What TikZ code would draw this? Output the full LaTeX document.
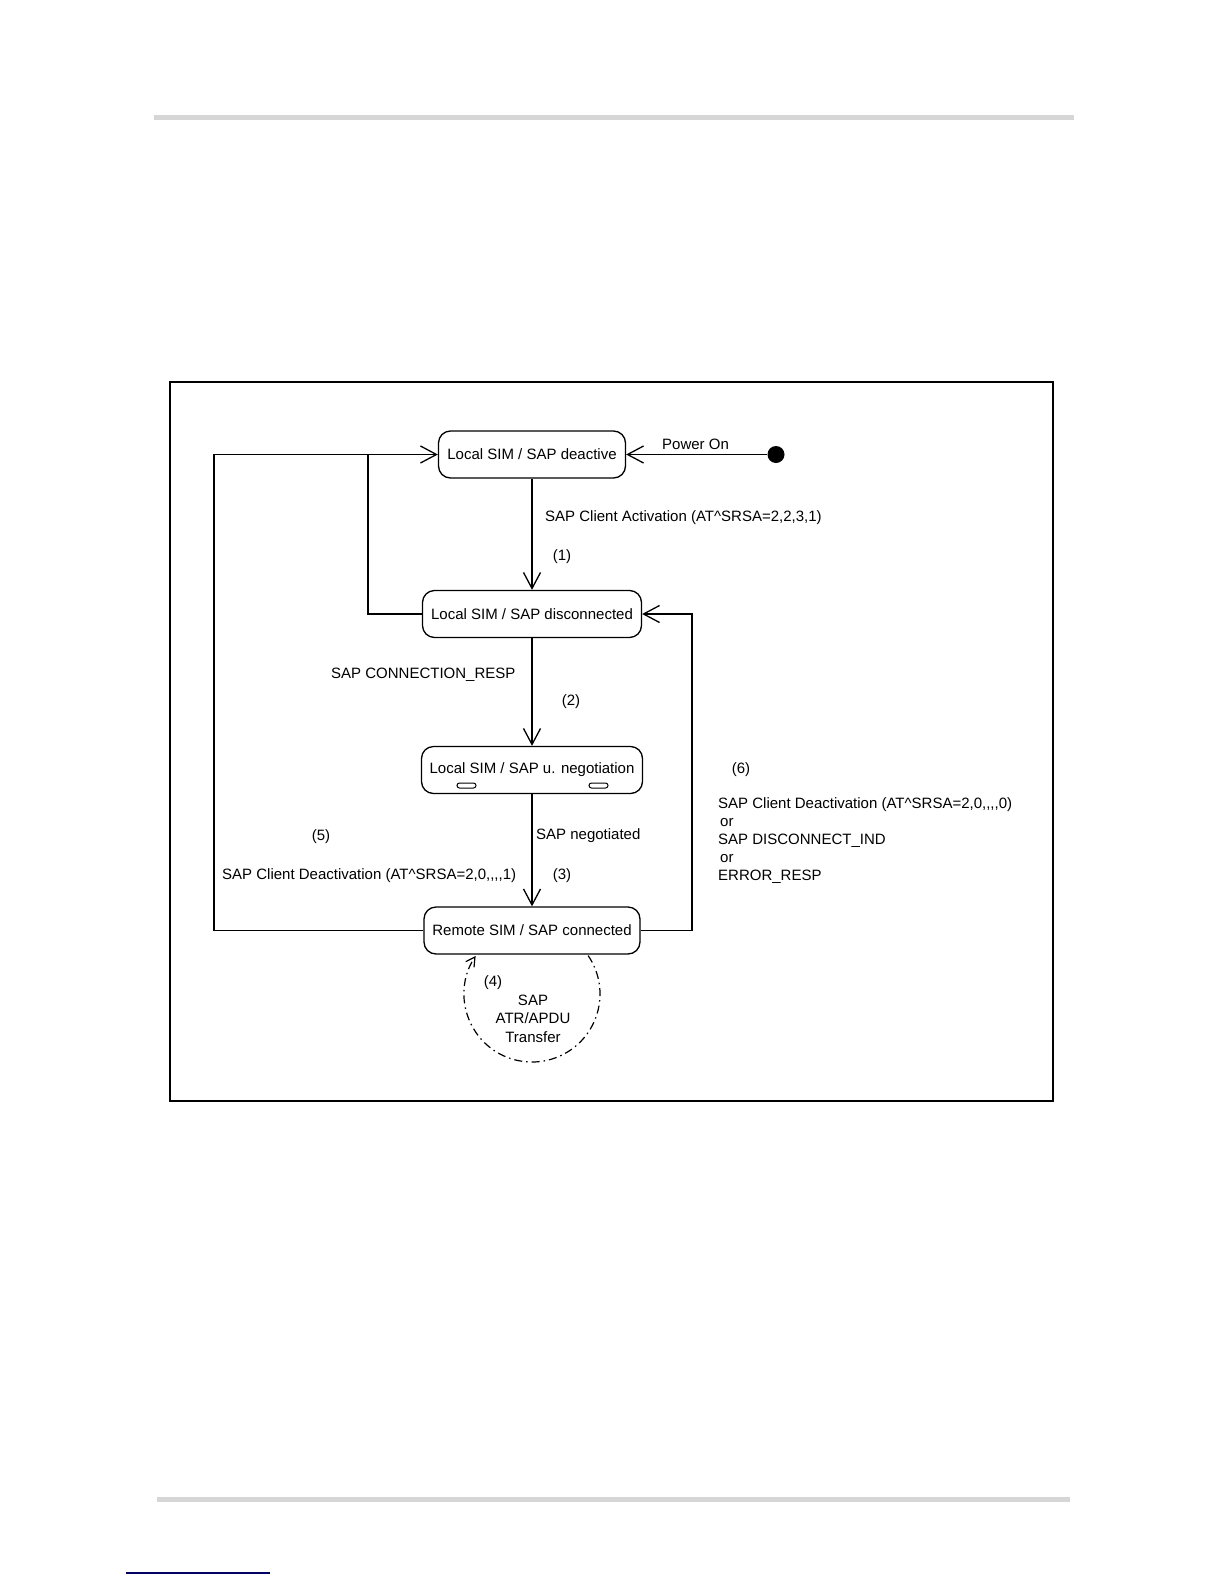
\documentclass[tikz,border=0pt]{standalone}
\usepackage{fontspec}
\setmainfont{Liberation Sans}[Ligatures=TeXOff]
\usetikzlibrary{arrows.meta}

\begin{document}
\begin{tikzpicture}[x=1pt, y=-1pt, every node/.style={font=\fontsize{15}{18}\selectfont}]
  \tikzstyle{state}=[draw,rounded corners=12pt,line width=1.3pt,minimum height=47pt,inner sep=0pt]
  \tikzstyle{trans}=[line width=1.3pt,-{Straight Barb[length=16pt,width=17pt,line width=1.3pt]}]
  \tikzstyle{lbl}=[inner sep=0pt,anchor=west]
  \useasboundingbox (0,0) rectangle (1224,1584);
  % page rules
  \fill[black!16] (154,115) rectangle (1074,120);
  \fill[black!16] (157,1497) rectangle (1070,1502);
  \fill[blue!40!black] (126,1572) rectangle (270,1574);
  % frame
  \draw[line width=1.5pt] (170,382) rectangle (1053,1101);
  % states
  \node[state,minimum width=187pt] (deact) at (532,454.5) {Local SIM / SAP deactive};
  \node[state,minimum width=219pt] (disc) at (532,614) {Local SIM / SAP disconnected};
  \node[state,minimum width=221pt] (nego) at (532,770) {Local SIM / SAP u. negotiation};
  \node[state,minimum width=216pt] (conn) at (532,930.5) {Remote SIM / SAP connected};
  \draw[line width=1pt,rounded corners=2.5pt] (457,783) rectangle (476,788);
  \draw[line width=1pt,rounded corners=2.5pt] (589,783) rectangle (608,788);
  \node[circle,fill,minimum size=17pt,inner sep=0pt] (init) at (776,454.5) {};
  % bends
  \coordinate (lfar) at (214,0);
  \coordinate (lmid) at (368,0);
  \coordinate (rfar) at (692,0);
  % transitions
  \draw[trans] (init) -- (deact);
  \node[lbl] at (662,444) {Power On};
  \draw[trans] (deact) -- (disc);
  \node[lbl] at (545,518) {SAP Client Activation (AT\textasciicircum SRSA=2,2,3,1)};
  \node at (562,557) {(1)};
  \draw[trans] (disc) -- (nego);
  \node[lbl] at (331,675) {SAP CONNECTION\_RESP};
  \node at (571,702) {(2)};
  \draw[trans] (nego) -- (conn);
  \node[lbl] at (536,836) {SAP negotiated};
  \node at (562,876) {(3)};
  \draw[trans] (conn.west) -- (conn.west -| lfar) |- (deact.west);
  \draw[line width=1.3pt] (disc.west) -- (disc.west -| lmid) -- (deact.west -| lmid);
  \node at (321,837) {(5)};
  \node[lbl] at (222,876) {SAP Client Deactivation (AT\textasciicircum SRSA=2,0,,,,1)};
  \draw[trans] (conn.east) -- (conn.east -| rfar) |- (disc.east);
  \node at (741,770) {(6)};
  \node[lbl,align=left] at (718,841) {SAP Client Deactivation (AT\textasciicircum SRSA=2,0,,,,0)\\\hspace{2pt}or\\SAP DISCONNECT\_IND\\\hspace{2pt}or\\ERROR\_RESP};
  % self loop
  \draw[line width=1.2pt,dash pattern=on 8pt off 4pt on 1.5pt off 4pt,-{Straight Barb[length=9pt,width=10pt,line width=1.2pt]}]
    ([shift={(-34.4:68)}]532,994) arc[start angle=-34.4,end angle=214,radius=68];
  \node at (493,983) {(4)};
  \node[align=center,font=\fontsize{15}{18.5}\selectfont] (xfer) at (533,1018.5) {SAP\\ATR/APDU\\Transfer};
\end{tikzpicture}
\end{document}
